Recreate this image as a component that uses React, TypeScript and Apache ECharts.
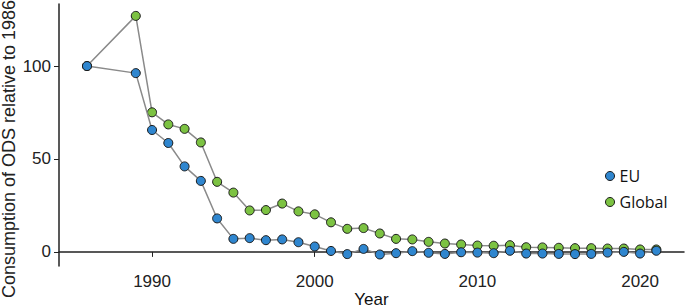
import React, { useEffect, useRef } from "react";
import * as echarts from "echarts";

const years = [1986, 1989, 1990, 1991, 1992, 1993, 1994, 1995, 1996, 1997, 1998, 1999, 2000, 2001, 2002, 2003, 2004, 2005, 2006, 2007, 2008, 2009, 2010, 2011, 2012, 2013, 2014, 2015, 2016, 2017, 2018, 2019, 2020, 2021];
const euValues = [100, 96.2, 65.6, 58.6, 46, 38.2, 18, 7.0, 7.4, 6.3, 6.7, 5.2, 2.9, 0.5, -1.2, 1.6, -1.4, -0.7, 0.4, -0.5, -1.1, -0.2, -0.4, -0.7, 0.6, -0.9, -0.9, -1.1, -1.2, -1.1, -0.4, 0, -0.9, 0.6];
const globalValues = [100, 127, 75.1, 68.6, 66.2, 58.9, 37.7, 31.9, 22.3, 22.5, 26, 21.8, 20.2, 15.9, 12.4, 12.8, 9.9, 7.0, 6.7, 5.4, 4.5, 4.0, 3.4, 3.3, 3.6, 2.5, 2.4, 2.2, 2.0, 2.0, 1.8, 1.8, 1.3, 1.3];
const xTicks = [1990, 2000, 2010, 2020];
const yTicks = [0, 50, 100];
const seriesNames = ["EU", "Global"];

export default function App() {
  const ref = useRef<HTMLDivElement>(null);
  useEffect(() => {
    if (!ref.current) return;
    const chart = echarts.init(ref.current, null, { renderer: "svg" });
    const font = "'Liberation Sans', Arial, sans-serif";
    const axisColor = "#222";
    const lineColor = "#8a8a8a";
    const mk = (name: string, vals: number[], color: string, z: number) => ({
      name,
      type: "line",
      data: years.map((y, i) => [y, vals[i]]),
      symbol: "circle",
      symbolSize: 9,
      showAllSymbol: true,
      z,
      lineStyle: { color: lineColor, width: 1.5 },
      itemStyle: { color, borderColor: "#1a1a1a", borderWidth: 1 },
      emphasis: { disabled: true },
    });
    chart.setOption({
      animation: false,
      backgroundColor: "#fff",
      grid: { left: 59, right: 1, top: 4, bottom: 42, containLabel: false, outerBoundsMode: "none" },
      legend: {
        data: seriesNames,
        orient: "vertical",
        left: 600,
        top: 163,
        icon: "circle",
        itemWidth: 9,
        itemHeight: 9,
        itemGap: 10,
        textStyle: { fontFamily: "'Open Sans', sans-serif", fontSize: 16, color: "#111" },
        itemStyle: { borderColor: "#1a1a1a", borderWidth: 1 },
      },
      xAxis: {
        type: "value",
        min: 1984.28,
        max: 2022.7,
        name: "Year",
        nameLocation: "middle",
        nameGap: 25,
        nameMoveOverlap: false,
        nameTextStyle: { fontFamily: font, fontSize: 17, color: "#111" },
        axisLine: { show: true, lineStyle: { color: axisColor, width: 1.5 } },
        axisTick: { show: true, length: 5, lineStyle: { color: axisColor }, customValues: xTicks },
        axisLabel: { customValues: xTicks, fontFamily: font, fontSize: 17, color: "#222", margin: 7, formatter: (v: number) => String(v) },
        splitLine: { show: false },
      },
      yAxis: {
        type: "value",
        min: -7.6,
        max: 133.4,
        axisLine: { show: true, lineStyle: { color: axisColor, width: 1.5 } },
        axisTick: { show: true, length: 5, lineStyle: { color: axisColor }, customValues: yTicks },
        axisLabel: { customValues: yTicks, fontFamily: font, fontSize: 17, color: "#222", margin: 8, formatter: (v: number) => String(v) },
        splitLine: { show: false },
      },
      graphic: [
        {
          type: "text",
          x: 9,
          y: 149,
          rotation: Math.PI / 2,
          style: {
            text: "Consumption of ODS relative to 1986",
            fontFamily: font,
            fontSize: 18,
            fill: "#222",
            textAlign: "center",
            textVerticalAlign: "middle",
          },
        },
      ],
      series: [mk("Global", globalValues, "#7cc242", 2), mk("EU", euValues, "#2f86cf", 3)],
    });
    return () => chart.dispose();
  }, []);
  return <div ref={ref} style={{ position: "fixed", left: 0, top: 0, width: 685, height: 308 }} />;
}
